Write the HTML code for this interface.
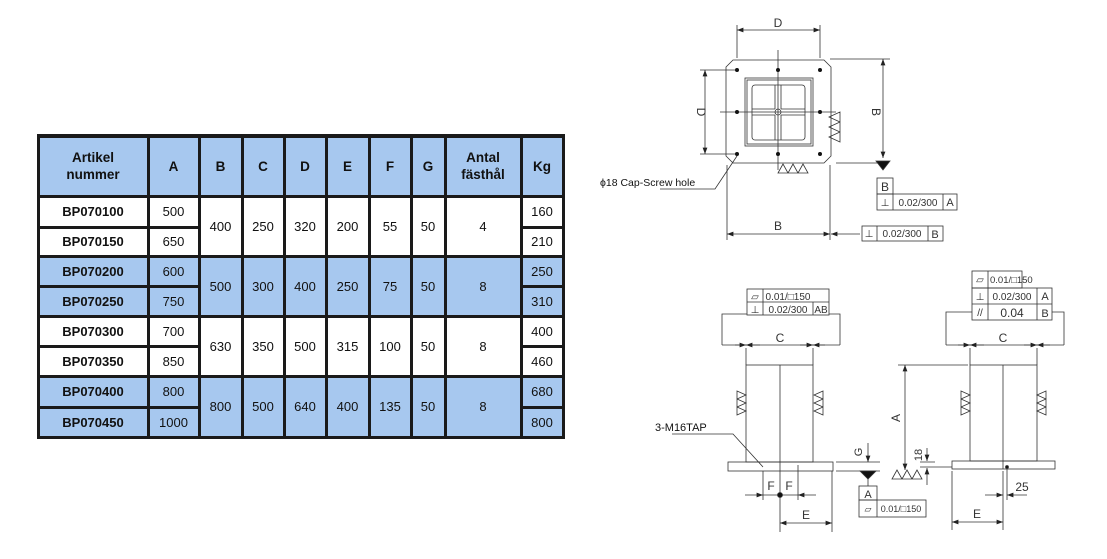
<!DOCTYPE html>
<html><head><meta charset="utf-8"><style>
body{margin:0;width:1107px;height:559px;background:#fff;position:relative;overflow:hidden;font-family:"Liberation Sans","DejaVu Sans",sans-serif}
.c{position:absolute;display:flex;align-items:center;justify-content:center;text-align:center;font-size:13px;color:#111;box-sizing:border-box}
.b{background:#a7c8ef}.w{background:#fff}
.h{font-weight:bold;font-size:13.5px;line-height:17px}
.k{font-weight:bold}
svg text{font-family:"Liberation Sans","DejaVu Sans",sans-serif;fill:#333}
</style></head><body>
<div style="position:absolute;left:37px;top:134px;width:528px;height:305px;background:#1a1a1a"></div>
<div id="t"></div>
<script>
var X=[38,148,199,242,284,326,369,411,445,521,563];
var Y=[136,196,227,256,286,316,346,376,407,437];
var h=["Artikel<br>nummer","A","B","C","D","E","F","G","Antal<br>fästhål","Kg"];
var out="";
function cell(x1,y1,x2,y2,cls,txt){out+='<div class="c '+cls+'" style="left:'+(x1+1.5)+'px;top:'+(y1+1.5)+'px;width:'+(x2-x1-3)+'px;height:'+(y2-y1-3)+'px">'+txt+'</div>';}
for(var i=0;i<10;i++)cell(X[i],Y[0],X[i+1],Y[1],"b h",h[i]);
var rows=[["BP070100","500","160"],["BP070150","650","210"],["BP070200","600","250"],["BP070250","750","310"],["BP070300","700","400"],["BP070350","850","460"],["BP070400","800","680"],["BP070450","1000","800"]];
var grp=[["400","250","320","200","55","50","4"],["500","300","400","250","75","50","8"],["630","350","500","315","100","50","8"],["800","500","640","400","135","50","8"]];
for(var r=0;r<8;r++){var g=Math.floor(r/2),cl=(g%2)?"b":"w";var y1=Y[r+1],y2=Y[r+2];
cell(X[0],y1,X[1],y2,cl+" k",rows[r][0]);cell(X[1],y1,X[2],y2,cl,rows[r][1]);cell(X[9],y1,X[10],y2,cl,rows[r][2]);}
for(var g=0;g<4;g++){var cl=(g%2)?"b":"w";var y1=Y[1+2*g],y2=Y[3+2*g];
for(var j=0;j<7;j++)cell(X[2+j],y1,X[3+j],y2,cl,grp[g][j]);}
document.getElementById("t").innerHTML=out;
</script>
<svg width="1107" height="559" style="position:absolute;left:0;top:0" stroke="#333" fill="none" stroke-width="0.8">
<defs><marker id="a" markerWidth="8" markerHeight="6" refX="8" refY="3" orient="auto-start-reverse"><path d="M0,0 L8,3 L0,6z" fill="#222" stroke="none"/></marker></defs>
<path d="M733,60 L824,60 L831,67 L831,156 L824,163 L733,163 L726,156 L726,67 Z"/>
<line x1="778" y1="50" x2="778" y2="170"/><line x1="720" y1="112" x2="836" y2="112"/>
<rect x="745" y="78" width="68" height="68"/><rect x="747" y="80" width="64" height="64"/>
<rect x="752" y="85" width="53" height="55" rx="3"/>
<path d="M752,109 h23 M752,115 h23 M781,109 h24 M781,115 h24 M775,85 v24 M781,85 v24 M775,115 v25 M781,115 v25"/>
<circle cx="778" cy="112" r="3"/>
<g fill="#111" stroke="none"><circle cx="737" cy="70" r="2"/><circle cx="778" cy="70" r="2"/><circle cx="820" cy="70" r="2"/><circle cx="737" cy="112" r="2"/><circle cx="820" cy="112" r="2"/><circle cx="737" cy="154" r="2"/><circle cx="778" cy="154" r="2"/><circle cx="820" cy="154" r="2"/></g>
<path d="M737,58 V25 M820,58 V25 M700,70 H735 M700,154 H735 M830,59 H890 M727,165 V240 M830,165 V240 M836,163 H880"/>
<line x1="737" y1="30" x2="820" y2="30" marker-start="url(#a)" marker-end="url(#a)"/>
<line x1="705" y1="70" x2="705" y2="154" marker-start="url(#a)" marker-end="url(#a)"/>
<line x1="883" y1="59" x2="883" y2="158" marker-start="url(#a)" marker-end="url(#a)"/>
<line x1="727" y1="234" x2="830" y2="234" marker-start="url(#a)" marker-end="url(#a)"/>
<line x1="860" y1="234" x2="831" y2="234" marker-end="url(#a)"/>
<path d="M876,161 L890,161 L883,170 Z" fill="#111"/>
<path d="M829,117 L840,122 L840,112 Z M829,127 L840,132 L840,122 Z M829,137 L840,142 L840,132 Z M778,173 L783,164 L788,173 Z M788,173 L793,164 L798,173 Z M798,173 L803,164 L808,173 Z"/>
<text x="778" y="34" stroke="none" font-size="12" text-anchor="middle" dy="-7">D</text>
<text transform="translate(697,112) rotate(90)" stroke="none" font-size="12" text-anchor="middle">D</text>
<text transform="translate(872,112) rotate(90)" stroke="none" font-size="12" text-anchor="middle">B</text>
<text x="778" y="230" stroke="none" font-size="12" text-anchor="middle">B</text>
<rect x="877" y="178" width="16" height="16"/><text x="885" y="191" stroke="none" font-size="12" text-anchor="middle">B</text>
<rect x="877" y="194" width="80" height="16"/><path d="M893,194 v16 M943,194 v16"/>
<text x="885" y="206" stroke="none" font-size="10" text-anchor="middle">⊥</text><text x="918" y="206" stroke="none" font-size="10" text-anchor="middle">0.02/300</text><text x="950" y="206" stroke="none" font-size="11" text-anchor="middle">A</text>
<rect x="862" y="226" width="81" height="15"/><path d="M877,226 v15 M928,226 v15"/>
<text x="869" y="237" stroke="none" font-size="10" text-anchor="middle">⊥</text><text x="902" y="237" stroke="none" font-size="10" text-anchor="middle">0.02/300</text><text x="935" y="238" stroke="none" font-size="11" text-anchor="middle">B</text>
<text x="600" y="186" stroke="none" font-size="10.5" style="fill:#111">ϕ18 Cap-Screw hole</text>
<path d="M660,189 H715 L737,156"/>
<rect x="746" y="365" width="67" height="97"/><line x1="780" y1="365" x2="780" y2="471"/>
<rect x="728" y="462" width="105" height="9"/>
<rect x="747" y="289" width="82" height="26"/><path d="M747,302 H829 M763,289 V315 M813,302 V315"/>
<text x="755" y="300" stroke="none" font-size="10" text-anchor="middle">⏥</text><text x="788" y="300" stroke="none" font-size="10" text-anchor="middle">0.01/□150</text>
<text x="755" y="313" stroke="none" font-size="10" text-anchor="middle">⊥</text><text x="788" y="313" stroke="none" font-size="10" text-anchor="middle">0.02/300</text><text x="821" y="313" stroke="none" font-size="10" text-anchor="middle">AB</text>
<path d="M747,314 H722 V345 M829,314 H840 V345 M746,348 V365 M813,348 V365"/>
<line x1="722" y1="345" x2="840" y2="345"/>
<line x1="735" y1="345" x2="746" y2="345" marker-end="url(#a)"/><line x1="825" y1="345" x2="813" y2="345" marker-end="url(#a)"/>
<line x1="760" y1="345" x2="746" y2="345" marker-end="url(#a)"/><line x1="800" y1="345" x2="813" y2="345" marker-end="url(#a)"/>
<text x="780" y="342" stroke="none" font-size="12" text-anchor="middle">C</text>
<path d="M737,391 L746,395 L737,399 Z M737,399 L746,403 L737,407 Z M737,407 L746,411 L737,415 Z M823,391 L814,395 L823,399 Z M823,399 L814,403 L823,407 Z M823,407 L814,411 L823,415 Z"/>
<text x="655" y="431" stroke="none" font-size="11" style="fill:#111">3-M16TAP</text>
<path d="M672,434 H733 L763,467"/>
<path d="M763,471 V500 M798,465 V500 M780,471 V532 M832,471 V532"/>
<line x1="745" y1="495" x2="763" y2="495" marker-end="url(#a)"/><line x1="816" y1="495" x2="798" y2="495" marker-end="url(#a)"/>
<line x1="763" y1="495" x2="798" y2="495"/><circle cx="780" cy="495" r="2.5" fill="#111"/>
<text x="771" y="490" stroke="none" font-size="12" text-anchor="middle">F</text><text x="789" y="490" stroke="none" font-size="12" text-anchor="middle">F</text>
<line x1="780" y1="523" x2="832" y2="523" marker-start="url(#a)" marker-end="url(#a)"/>
<text x="806" y="519" stroke="none" font-size="12" text-anchor="middle">E</text>
<path d="M836,462 H880 M836,471 H880"/>
<line x1="868" y1="443" x2="868" y2="462" marker-end="url(#a)"/>
<text transform="translate(862,452) rotate(-90)" stroke="none" font-size="11" text-anchor="middle">G</text>
<path d="M860,471 L876,471 L868,479 Z" fill="#111"/><line x1="868" y1="479" x2="868" y2="486"/>
<rect x="859" y="486" width="18" height="14"/><text x="868" y="498" stroke="none" font-size="11" text-anchor="middle">A</text>
<rect x="859" y="500" width="67" height="17"/><line x1="877" y1="500" x2="877" y2="517"/>
<text x="868" y="512" stroke="none" font-size="9" text-anchor="middle">⏥</text><text x="901" y="512" stroke="none" font-size="9" text-anchor="middle">0.01/□150</text>
<rect x="970" y="365" width="67" height="96"/><line x1="1003" y1="365" x2="1003" y2="469"/>
<rect x="952" y="461" width="103" height="8"/>
<rect x="972" y="271" width="50" height="17"/><rect x="972" y="288" width="80" height="32"/><path d="M972,304 H1052 M988,271 V320 M1037,288 V320"/>
<text x="980" y="283" stroke="none" font-size="10" text-anchor="middle">⏥</text><text x="990" y="283" stroke="none" font-size="9.5">0.01/□150</text>
<text x="980" y="300" stroke="none" font-size="10" text-anchor="middle">⊥</text><text x="1012" y="300" stroke="none" font-size="10" text-anchor="middle">0.02/300</text><text x="1045" y="300" stroke="none" font-size="11" text-anchor="middle">A</text>
<text x="980" y="316" stroke="none" font-size="10" text-anchor="middle">//</text><text x="1012" y="317" stroke="none" font-size="12" text-anchor="middle">0.04</text><text x="1045" y="317" stroke="none" font-size="11" text-anchor="middle">B</text>
<path d="M972,312 H946 V345 M1052,312 H1064 V345 M970,348 V365 M1037,348 V365"/>
<line x1="946" y1="345" x2="1064" y2="345"/>
<line x1="958" y1="345" x2="970" y2="345" marker-end="url(#a)"/><line x1="1050" y1="345" x2="1037" y2="345" marker-end="url(#a)"/>
<line x1="984" y1="345" x2="970" y2="345" marker-end="url(#a)"/><line x1="1024" y1="345" x2="1037" y2="345" marker-end="url(#a)"/>
<text x="1003" y="342" stroke="none" font-size="12" text-anchor="middle">C</text>
<path d="M961,391 L970,395 L961,399 Z M961,399 L970,403 L961,407 Z M961,407 L970,411 L961,415 Z M1046,391 L1037,395 L1046,399 Z M1046,399 L1037,403 L1046,407 Z M1046,407 L1037,411 L1046,415 Z"/>
<path d="M898,365 H968"/>
<line x1="905" y1="365" x2="905" y2="470" marker-start="url(#a)" marker-end="url(#a)"/>
<text transform="translate(900,418) rotate(-90)" stroke="none" font-size="12" text-anchor="middle">A</text>
<path d="M892,479 L897,470 L902,479 Z M902,479 L907,470 L912,479 Z M912,479 L917,470 L922,479 Z"/>
<path d="M920,467 H952 M920,462 H935"/>
<line x1="927" y1="448" x2="927" y2="461" marker-end="url(#a)"/><line x1="927" y1="485" x2="927" y2="468" marker-end="url(#a)"/>
<text transform="translate(922,455) rotate(-90)" stroke="none" font-size="11" text-anchor="middle">18</text>
<circle cx="1007" cy="467" r="1.5" fill="#111"/>
<path d="M1007,469 V500 M952,471 V530 M1003,471 V530"/>
<line x1="985" y1="495" x2="1003" y2="495" marker-end="url(#a)"/><line x1="1027" y1="495" x2="1007" y2="495" marker-end="url(#a)"/>
<text x="1022" y="491" stroke="none" font-size="12" text-anchor="middle">25</text>
<line x1="952" y1="522" x2="1003" y2="522" marker-start="url(#a)" marker-end="url(#a)"/>
<text x="977" y="518" stroke="none" font-size="12" text-anchor="middle">E</text>
</svg>
</body></html>
